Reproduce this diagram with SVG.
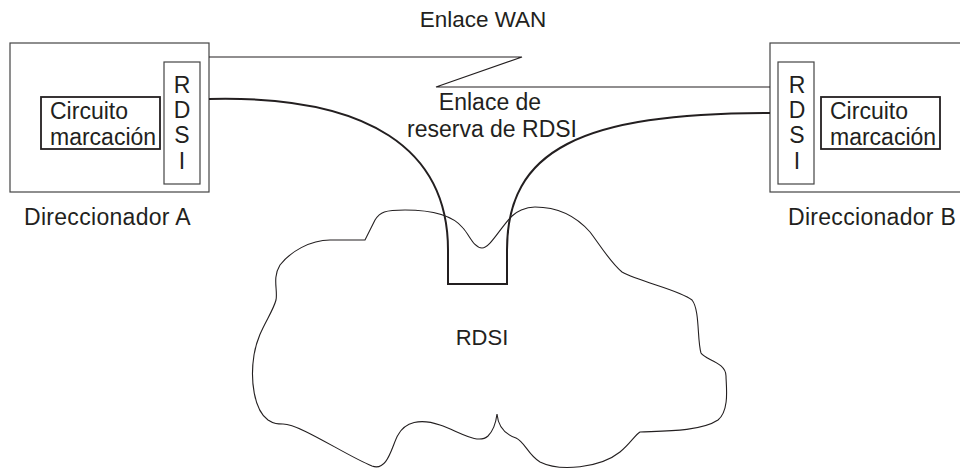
<svg xmlns="http://www.w3.org/2000/svg" width="960" height="469" viewBox="0 0 960 469">
<style>
text{font-family:"Liberation Sans",Arial,sans-serif;font-size:23px;fill:#231f20}
.c{text-anchor:middle}
.r{letter-spacing:0.3px}
.box{fill:none;stroke:#444;stroke-width:1.2}
.dial{fill:none;stroke:#231f20;stroke-width:1.8}
.link{fill:none;stroke:#231f20;stroke-width:1.2}
.isdn{fill:none;stroke:#231f20;stroke-width:2}
.cloud{fill:none;stroke:#231f20;stroke-width:1.1}
</style>
<rect width="960" height="469" fill="#fff"/>
<g id="cloud">
<path class="cloud" d="M283,424 C300,424 345,455 372,466 C388,472 392,445 398,435 C405,422 420,418 440,425 C460,432 478,445 488,436 C494,430 496,422 497,414 C498,425 504,434 516,438 C525,442 528,455 540,462 C560,472 600,468 620,452 C630,444 635,435 640,432 C660,431 700,432 718,420 C730,410 726,385 726,376 C726,362 705,360 701,353 C697,340 700,310 692,300 C680,290 640,282 622,272 C610,262 600,245 590,232 C575,215 555,207 535,207 C525,207 516,212 512,216 C500,228 490,248 482,248 C474,248 470,236 463,228 C450,212 420,210 405,210 C385,210 380,212 375,220 L365,240 L330,240 C310,240 290,252 280,265 C272,278 278,290 276,300 C272,315 258,330 254,355 C250,380 254,410 268,420 C274,424 278,424 283,424 Z"/>
<text class="c" x="482" y="345" style="font-size:22px">RDSI</text>
</g>
<g id="routerA">
<rect class="box" x="10" y="43" width="199" height="149"/>
<rect class="box" x="164" y="62" width="36" height="122"/>
<text class="c" x="182" y="93">R</text>
<text class="c" x="182" y="118">D</text>
<text class="c" x="182" y="143">S</text>
<text class="c" x="182" y="169">I</text>
<rect class="dial" x="41" y="97" width="119" height="52"/>
<text x="50" y="119">Circuito</text>
<text x="50" y="145">marcación</text>
<text class="r" x="24" y="225">Direccionador A</text>
</g>
<g id="routerB">
<rect class="box" x="770" y="43" width="195" height="149"/>
<rect class="box" x="778" y="62" width="36" height="122"/>
<text class="c" x="797" y="93">R</text>
<text class="c" x="797" y="118">D</text>
<text class="c" x="797" y="143">S</text>
<text class="c" x="797" y="169">I</text>
<rect class="dial" x="821" y="97" width="119" height="52"/>
<text x="830" y="119">Circuito</text>
<text x="830" y="145">marcación</text>
<text class="r" x="788" y="225">Direccionador B</text>
</g>
<g id="connectors">
<polyline class="link" points="209,57 522,57 436,87 770,87"/>
<path class="isdn" d="M209,99 C370,95 448,150 448,250 L448,284 L507,284 L507,250 C507,150 580,113 770,113"/>
</g>
<g id="labels">
<text class="c" x="483" y="27" style="font-size:22.5px">Enlace WAN</text>
<text class="c" x="490" y="110">Enlace de</text>
<text class="c" x="492" y="137">reserva de RDSI</text>
</g>
</svg>
